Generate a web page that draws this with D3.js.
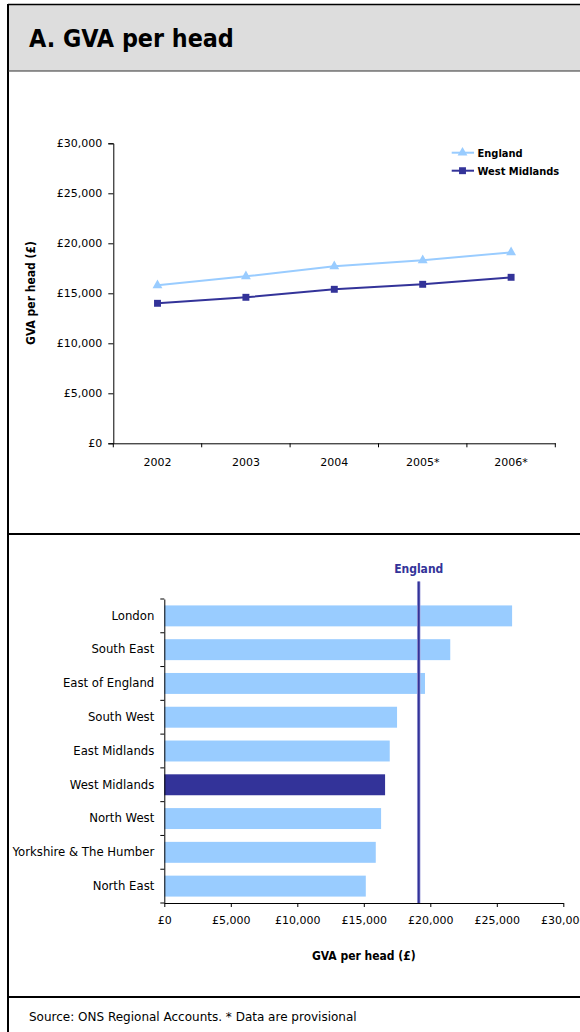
<!DOCTYPE html>
<html>
<head>
<meta charset="utf-8">
<script src="https://cdn.jsdelivr.net/npm/d3@7"></script>
<style>
  html, body { margin: 0; padding: 0; background: #fff; }
  svg { display: block; }
  text { font-family: "DejaVu Sans", sans-serif; fill: #000; }
  .cond { font-family: "DejaVu Sans Condensed", "DejaVu Sans", sans-serif; }
</style>
</head>
<body>
<svg id="chart" width="580" height="1032"></svg>
<script>
// ---------- data ----------
const years = ["2002", "2003", "2004", "2005*", "2006*"];
const englandSeries = [15800, 16700, 17700, 18300, 19100];
const westMidlandsSeries = [14000, 14600, 15400, 15900, 16600];
const lineTicks = [0, 5000, 10000, 15000, 20000, 25000, 30000];

const regions = ["London", "South East", "East of England", "South West", "East Midlands",
                 "West Midlands", "North West", "Yorkshire & The Humber", "North East"];
const regionValues = [26150, 21500, 19600, 17500, 16950, 16600, 16300, 15900, 15150];
const englandAverage = 19130;
const barTicks = [0, 5000, 10000, 15000, 20000, 25000, 30000];

const LIGHT = "#99ccff", DARK = "#333399";
const fmt = v => "£" + d3.format(",")(v);

const svg = d3.select("#chart");

// ---------- frame ----------
svg.append("rect").attr("x", 8).attr("y", 4.5).attr("width", 600).attr("height", 66.5)
  .attr("fill", "#dddddd");
svg.append("line").attr("x1", 8).attr("x2", 580).attr("y1", 4.5).attr("y2", 4.5)
  .attr("stroke", "#000").attr("stroke-width", 1.5);
svg.append("line").attr("x1", 8).attr("x2", 8).attr("y1", 4).attr("y2", 1032)
  .attr("stroke", "#000").attr("stroke-width", 2);
svg.append("line").attr("x1", 8).attr("x2", 580).attr("y1", 71).attr("y2", 71)
  .attr("stroke", "#333").attr("stroke-width", 1.2);
svg.append("line").attr("x1", 8).attr("x2", 580).attr("y1", 534).attr("y2", 534)
  .attr("stroke", "#000").attr("stroke-width", 2);
svg.append("line").attr("x1", 8).attr("x2", 580).attr("y1", 997).attr("y2", 997)
  .attr("stroke", "#000").attr("stroke-width", 2);

svg.append("text").attr("class", "cond").attr("x", 29).attr("y", 46.5)
  .attr("font-size", 24.8).attr("font-weight", "bold").text("A. GVA per head");

svg.append("text").attr("x", 29).attr("y", 1021)
  .attr("font-size", 12).text("Source: ONS Regional Accounts. * Data are provisional");

// ---------- line chart ----------
const lx = d3.scaleBand().domain(years).range([113.3, 555.3]);
const ly = d3.scaleLinear().domain([0, 30000]).range([443.3, 143.3]);

const gy = svg.append("g").attr("transform", "translate(113.3,0)")
  .call(d3.axisLeft(ly).tickValues(lineTicks).tickFormat(fmt).tickSizeOuter(0).tickSize(5).tickPadding(6));
gy.select(".domain").attr("stroke", "#000");
gy.selectAll("text").attr("font-size", 11).attr("font-family", null);

const gx = svg.append("g").attr("transform", "translate(0,443.3)")
  .call(d3.axisBottom(lx).tickSize(0).tickPadding(15));
gx.select(".domain").attr("stroke", "#000");
gx.selectAll("text").attr("font-size", 11).attr("font-family", null);
// band boundary ticks
const bounds = years.map(y => lx(y)).concat([lx.range()[1]]);
gx.selectAll(".btick").data(bounds).join("line").attr("class", "btick")
  .attr("x1", d => d).attr("x2", d => d).attr("y1", 0).attr("y2", 4).attr("stroke", "#000");

svg.append("text").attr("class", "cond").attr("transform", "translate(35,293) rotate(-90)")
  .attr("text-anchor", "middle").attr("font-size", 12).attr("font-weight", "bold")
  .text("GVA per head (£)");

const lineGen = d3.line().x((d, i) => lx(years[i]) + lx.bandwidth() / 2).y(d => ly(d));
const tri = d3.symbol().type(d3.symbolTriangle).size(42);
const sq = d3.symbol().type(d3.symbolSquare).size(48);

svg.append("path").datum(englandSeries).attr("d", lineGen)
  .attr("fill", "none").attr("stroke", LIGHT).attr("stroke-width", 2);
svg.selectAll(".eng").data(englandSeries).join("path").attr("class", "eng")
  .attr("d", tri).attr("fill", LIGHT)
  .attr("transform", (d, i) => `translate(${lx(years[i]) + lx.bandwidth() / 2},${ly(d)})`);

svg.append("path").datum(westMidlandsSeries).attr("d", lineGen)
  .attr("fill", "none").attr("stroke", DARK).attr("stroke-width", 2);
svg.selectAll(".wm").data(westMidlandsSeries).join("path").attr("class", "wm")
  .attr("d", sq).attr("fill", DARK)
  .attr("transform", (d, i) => `translate(${lx(years[i]) + lx.bandwidth() / 2},${ly(d)})`);

// legend
const legend = [{ name: "England", color: LIGHT, sym: tri, y: 152.7 },
                { name: "West Midlands", color: DARK, sym: sq, y: 170.7 }];
const lg = svg.append("g");
legend.forEach(l => {
  lg.append("line").attr("x1", 451.7).attr("x2", 474).attr("y1", l.y).attr("y2", l.y)
    .attr("stroke", l.color).attr("stroke-width", 2);
  lg.append("path").attr("d", l.sym).attr("fill", l.color)
    .attr("transform", `translate(462.5,${l.y})`);
  lg.append("text").attr("class", "cond").attr("x", 477.5).attr("y", l.y).attr("dy", "0.35em")
    .attr("font-size", 11).attr("font-weight", "bold").text(l.name);
});

// ---------- bar chart ----------
const bx = d3.scaleLinear().domain([0, 30000]).range([164.3, 563.3]);
const by = d3.scaleBand().domain(regions).range([599, 903]).paddingInner(0.38).paddingOuter(0.19);

svg.selectAll(".bar").data(regions).join("rect").attr("class", "bar")
  .attr("x", bx(0)).attr("y", d => by(d))
  .attr("width", (d, i) => bx(regionValues[i]) - bx(0))
  .attr("height", by.bandwidth())
  .attr("fill", d => d === "West Midlands" ? DARK : LIGHT);

const gby = svg.append("g").attr("transform", "translate(164.3,0)")
  .call(d3.axisLeft(by).tickSize(0).tickPadding(10).tickSizeOuter(0));
gby.select(".domain").attr("stroke", "#000");
gby.selectAll("text").attr("font-size", 11.7).attr("font-family", null);
const bbounds = d3.range(regions.length + 1).map(i => 599 + i * (304 / regions.length));
gby.selectAll(".btick").data(bbounds).join("line").attr("class", "btick")
  .attr("x1", -4).attr("x2", 0).attr("y1", d => d).attr("y2", d => d).attr("stroke", "#000");

const gbx = svg.append("g").attr("transform", "translate(0,903)")
  .call(d3.axisBottom(bx).tickValues(barTicks).tickFormat(fmt).tickSize(4).tickPadding(9).tickSizeOuter(0));
gbx.select(".domain").attr("stroke", "#000");
gbx.selectAll("text").attr("font-size", 11).attr("font-family", null);

svg.append("text").attr("class", "cond").attr("x", 363.8).attr("y", 956).attr("dy", "0.35em")
  .attr("text-anchor", "middle").attr("font-size", 12).attr("font-weight", "bold")
  .text("GVA per head (£)");

// England reference line
svg.append("line").attr("x1", bx(englandAverage)).attr("x2", bx(englandAverage))
  .attr("y1", 581.5).attr("y2", 903)
  .attr("stroke", "#aaaadd").attr("stroke-width", 3.5);
svg.append("line").attr("x1", bx(englandAverage)).attr("x2", bx(englandAverage))
  .attr("y1", 581.5).attr("y2", 903)
  .attr("stroke", DARK).attr("stroke-width", 2);
svg.append("text").attr("class", "cond").attr("x", bx(englandAverage)).attr("y", 573)
  .attr("text-anchor", "middle").attr("font-size", 12).attr("font-weight", "bold")
  .style("fill", DARK).text("England");
</script>
</body>
</html>
